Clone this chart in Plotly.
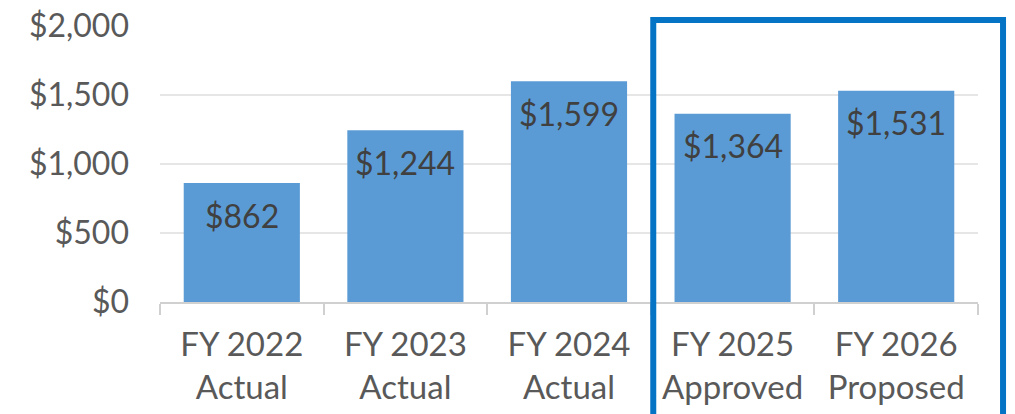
import plotly.graph_objects as go

# data
years = ['FY 2022', 'FY 2023', 'FY 2024', 'FY 2025', 'FY 2026']
status = ['Actual', 'Actual', 'Actual', 'Approved', 'Proposed']
values = [862, 1244, 1599, 1364, 1531]
y_ticks = [0, 500, 1000, 1500, 2000]

categories = [f'{y}<br>{s}' for y, s in zip(years, status)]
font_name = 'Lato'

fig = go.Figure()

fig.add_trace(go.Bar(
    x = categories,
    y = values,
    marker = dict(color = '#5B9BD5', line = dict(width = 0)),
    hoverinfo = 'skip',
))

# value labels inside the top of each bar
for cat, val in zip(categories, values):
    fig.add_annotation(
        x = cat, y = val,
        text = f'${val:,}',
        showarrow = False,
        yanchor = 'middle',
        yshift = -32,
        font = dict(family = font_name, size = 32, color = '#404040'),
    )

# highlight box round the budget years
fig.add_shape(
    type = 'rect',
    xref = 'paper', yref = 'paper',
    x0 = 0.603, x1 = 1.0306,
    y0 = -0.45, y1 = 1.0217,
    line = dict(color = '#0674C4', width = 6),
    fillcolor = 'rgba(0,0,0,0)',
)

fig.update_layout(
    width = 1015,
    height = 414,
    margin = dict(l = 160, r = 37, t = 26, b = 112),
    plot_bgcolor = 'white',
    paper_bgcolor = 'white',
    bargap = 0.29,
    showlegend = False,
    font = dict(family = font_name, size = 32, color = '#595959'),
)

fig.update_xaxes(
    type = 'category',
    automargin = False,
    showline = True,
    linecolor = '#D0D0D0',
    linewidth = 2,
    ticks = 'outside',
    tickson = 'boundaries',
    ticklen = 11,
    tickwidth = 2,
    tickcolor = '#D0D0D0',
    ticklabelstandoff = 12,
    ticklabeloverflow = 'allow',
    showgrid = False,
    tickfont = dict(family = font_name, size = 33, color = '#595959'),
)

fig.update_yaxes(
    automargin = False,
    range = [0, 2000],
    tickvals = y_ticks,
    ticktext = [f'${v:,}' for v in y_ticks],
    showgrid = True,
    gridcolor = '#E6E6E6',
    gridwidth = 2,
    zeroline = False,
    showline = False,
    ticks = '',
    ticklabelstandoff = 30,
    ticklabeloverflow = 'allow',
    tickfont = dict(family = font_name, size = 32, color = '#595959'),
)

# drop the default 8px page margin so the figure fills the window
fig.write_html('out.html', config = {'displayModeBar': False},
               post_script = "document.body.style.margin = '0';")
